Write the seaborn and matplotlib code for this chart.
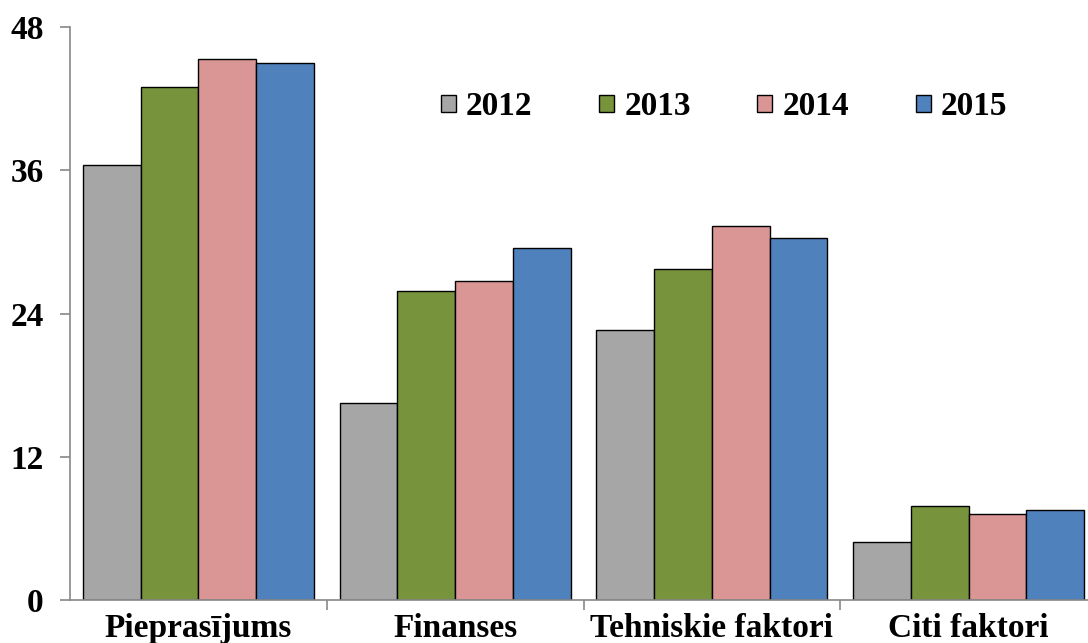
import numpy as np
import pandas as pd
import seaborn as sns
import matplotlib.pyplot as plt
from matplotlib.ticker import FixedLocator

categories = ["Pieprasījums", "Finanses", "Tehniskie faktori", "Citi faktori"]
years = ["2012", "2013", "2014", "2015"]
v2012 = [36.4, 16.5, 22.6, 4.9]
v2013 = [43.0, 25.9, 27.7, 7.9]
v2014 = [45.3, 26.7, 31.3, 7.2]
v2015 = [45.0, 29.5, 30.3, 7.5]
colors = ["#A6A6A6", "#77933C", "#D99694", "#4F81BD"]

rows = []
for year, vals in zip(years, [v2012, v2013, v2014, v2015]):
    for cat, v in zip(categories, vals):
        rows.append({"cat": cat, "year": year, "value": v})
df = pd.DataFrame(rows)

sns.set_style("white")
plt.rcParams["font.family"] = ["Liberation Serif", "DejaVu Serif"]
plt.rcParams["font.weight"] = "bold"
plt.rcParams["text.color"] = "black"
plt.rcParams["xtick.labelcolor"] = "black"
plt.rcParams["ytick.labelcolor"] = "black"

fig = plt.figure(figsize=(10.88, 6.43), dpi=100)
ax = fig.add_axes([70 / 1088, 43 / 643, 1027 / 1088, 573 / 643])

sns.barplot(data=df, x="cat", y="value", hue="year", palette=colors,
            width=0.9, gap=0, edgecolor="black", linewidth=1.0, ax=ax,
            saturation=1)

ax.set_xlim(-0.5, 3.5)
ax.set_ylim(0, 48)
ax.set_yticks([0, 12, 24, 36, 48])
ax.set_xlabel("")
ax.set_ylabel("")
for s in ["top", "right"]:
    ax.spines[s].set_visible(False)
for s in ["left", "bottom"]:
    ax.spines[s].set_color("#888888")
    ax.spines[s].set_linewidth(1.2)

ax.tick_params(axis="y", which="major", left=True, length=7, width=1.2,
               color="#888888", labelsize=24, pad=12)
ax.tick_params(axis="x", which="major", bottom=False, labelsize=24, pad=6)
ax.xaxis.set_minor_locator(FixedLocator([0.5, 1.5, 2.5]))
ax.tick_params(axis="x", which="minor", bottom=True, length=7, width=1.2,
               color="#888888")
for lab in ax.get_xticklabels() + ax.get_yticklabels():
    lab.set_fontweight("bold")
    lab.set_color("black")

leg = ax.legend(loc="upper left", bbox_to_anchor=(0.332, 0.94), ncol=4, frameon=False,
                prop={"size": 24, "weight": "bold"}, handlelength=0.45, handleheight=0.45,
                columnspacing=2.0, handletextpad=0.3)
for t in leg.get_texts():
    t.set_color("black")

fig.savefig("out.png", dpi=100)
